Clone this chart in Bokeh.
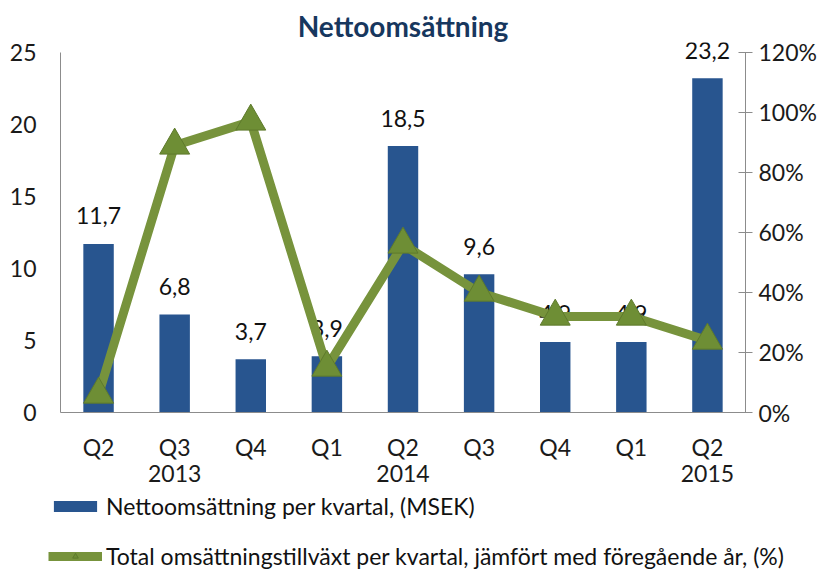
from bokeh.plotting import figure
from bokeh.models import (Range1d, LinearAxis, FixedTicker, ColumnDataSource, Legend, LegendItem, Title,
                          PrintfTickFormatter)
from bokeh.core.properties import value
from bokeh.embed import file_html
from bokeh.resources import INLINE

quarters = ["Q2", "Q3", "Q4", "Q1", "Q2", "Q3", "Q4", "Q1", "Q2"]
years = ["", "2013", "", "", "2014", "", "", "", "2015"]
sales = [11.7, 6.8, 3.7, 3.9, 18.5, 9.6, 4.9, 4.9, 23.2]
growth = [6, 89, 97, 15, 56, 40, 32, 32, 24]
sales_labels = ["11,7", "6,8", "3,7", "3,9", "18,5", "9,6", "4,9", "4,9", "23,2"]
left_ticks = [0, 5, 10, 15, 20, 25]
right_ticks = [0, 20, 40, 60, 80, 100, 120]
bar_name = "Nettoomsättning per kvartal, (MSEK)"
line_name = "Total omsättningstillväxt per kvartal, jämfört med föregående år, (%)"

FONT = "Lato"
BAR_COLOR = "#28558F"
LINE_COLOR = "#77933C"
TRI_FILL = "#6E8E35"
TRI_LINE = "#5E7A2C"

LEFT_MAX, RIGHT_MAX = left_ticks[-1], right_ticks[-1]
HEAD = 1 + 10 / 363  # a little room above the axes for the top data label

x = list(range(len(quarters)))
src = ColumnDataSource(dict(x=x, sales=sales, growth=growth, lab=sales_labels))

p = figure(width=827, height=490, output_backend="svg", toolbar_location=None,
           x_range=Range1d(-0.5, len(quarters) - 0.5), y_range=Range1d(0, LEFT_MAX * HEAD),
           min_border_left=60, min_border_right=82, min_border_top=42, min_border_bottom=75)
p.outline_line_color = None
p.grid.visible = False
p.background_fill_color = "white"
p.border_fill_color = "white"

t = Title(text="Nettoomsättning", align="center", text_font=FONT, text_font_size="28px",
          text_font_style="bold", text_color="#17375E", offset=0, standoff=0)
p.add_layout(t, "above")

# left axis
ya = p.yaxis[0]
ya.ticker = FixedTicker(ticks=left_ticks)
ya.bounds = (0, LEFT_MAX)
ya.major_tick_line_color = None
ya.minor_tick_line_color = None
ya.axis_line_color = "#8C8C8C"
ya.major_label_text_font = FONT
ya.major_label_text_font_size = "23px"
ya.major_label_text_color = "#1a1a1a"
ya.major_label_standoff = 18

# x axis
xa = p.xaxis[0]
xa.ticker = FixedTicker(ticks=x)
xa.major_label_overrides = {i: (q + "\n" + y if y else q) for i, (q, y) in enumerate(zip(quarters, years))}
xa.major_tick_line_color = None
xa.minor_tick_line_color = None
xa.axis_line_color = "#8C8C8C"
xa.major_label_text_font = FONT
xa.major_label_text_font_size = "23px"
xa.major_label_text_color = "#1a1a1a"
xa.major_label_text_line_height = 0.95
xa.major_label_standoff = 14

# right axis
p.extra_y_ranges = {"pct": Range1d(0, RIGHT_MAX * HEAD)}
ra = LinearAxis(y_range_name="pct", ticker=FixedTicker(ticks=right_ticks),
                formatter=PrintfTickFormatter(format="%d%%"))
ra.bounds = (0, RIGHT_MAX)
ra.major_tick_in = 7
ra.major_tick_out = 7
ra.major_tick_line_color = "#8C8C8C"
ra.minor_tick_line_color = None
ra.axis_line_color = "#8C8C8C"
ra.major_label_text_font = FONT
ra.major_label_text_font_size = "23px"
ra.major_label_text_color = "#1a1a1a"
ra.major_label_standoff = 6
p.add_layout(ra, "right")

p.vbar(x="x", top="sales", width=0.4, source=src, fill_color=BAR_COLOR, line_color=None)
p.text(x="x", y="sales", text="lab", source=src, text_align="center", text_baseline="middle",
       y_offset=-28, text_font=value(FONT), text_font_size="23px", text_color="#111111")
p.line(x="x", y="growth", source=src, y_range_name="pct", line_color=LINE_COLOR, line_width=9)
p.scatter(x="x", y="growth", source=src, y_range_name="pct", marker="triangle", size=30,
          fill_color=TRI_FILL, line_color=TRI_LINE, line_width=1)

# legend strip below the chart: same series, ranges chosen so only the legend keys show
lp = figure(width=827, height=80, output_backend="svg", toolbar_location=None,
            x_range=Range1d(-100, -99), y_range=Range1d(-100, -99),
            x_axis_location=None, y_axis_location=None, min_border=0)
lp.outline_line_color = None
lp.grid.visible = False
lb = lp.vbar(x="x", top="sales", width=0.4, source=src, fill_color=BAR_COLOR, line_color=None)
ll = lp.line(x="x", y="growth", source=src, line_color=LINE_COLOR, line_width=9)
lm = lp.scatter(x="x", y="growth", source=src, marker="triangle", size=22,
                fill_color=TRI_FILL, line_color=TRI_LINE, line_width=1)
legend = Legend(items=[
    LegendItem(label=bar_name, renderers=[lb]),
    LegendItem(label=line_name, renderers=[ll, lm]),
], location=(48, 0), orientation="vertical", background_fill_alpha=0, border_line_color=None,
   label_text_font=FONT, label_text_font_size="23px", label_text_color="#111111",
   glyph_width=54, glyph_height=14, spacing=22, label_standoff=4, padding=0, margin=0)
lp.add_layout(legend, "center")

open("out.html", "w").write(file_html([p, lp], INLINE))
